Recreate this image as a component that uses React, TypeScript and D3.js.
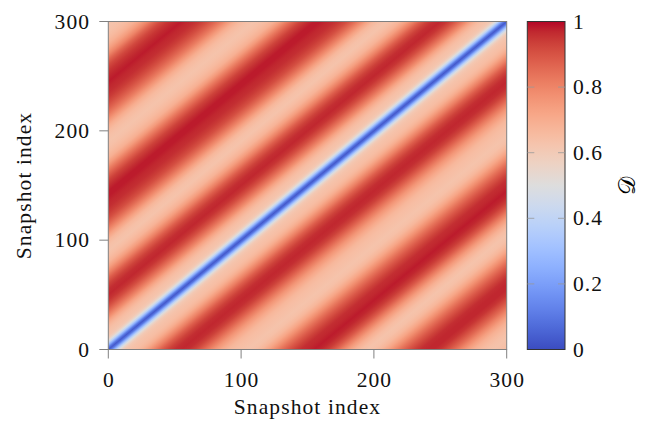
import React, { useEffect, useRef } from "react";
import * as d3 from "d3";

// axis ticks
const xTicks = [0, 100, 200, 300];
const yTicks = [0, 100, 200, 300];
const cbTicks = [0, 0.2, 0.4, 0.6, 0.8, 1];

// distance D vs. lag |i - j| (snapshots), read along the matrix edges
const lags = [0, 2, 4, 6, 8, 10, 12, 15, 18, 21, 24, 27, 30, 35, 40, 45, 50, 55, 60, 65, 70, 75, 80, 85, 90, 95, 100,
  105, 110, 115, 120, 125, 130, 135, 140, 145, 150, 155, 160, 165, 170, 175, 180, 185, 190, 195, 200,
  205, 210, 215, 220, 225, 230, 235, 240, 245, 250, 255, 260, 265, 270, 275, 280, 285, 290, 295, 300];
// j > i (upper left triangle)
const upperD = [0.03, 0.1, 0.24, 0.38, 0.5, 0.57, 0.61, 0.63, 0.64, 0.66, 0.69, 0.73, 0.78, 0.85, 0.91, 0.95, 0.97, 0.96, 0.93, 0.88, 0.81, 0.74, 0.68, 0.65, 0.63, 0.64, 0.67,
  0.73, 0.8, 0.86, 0.91, 0.94, 0.96, 0.97, 0.98, 0.98, 0.96, 0.93, 0.88, 0.82, 0.75, 0.69, 0.66, 0.64, 0.63, 0.64, 0.66,
  0.7, 0.76, 0.82, 0.87, 0.91, 0.94, 0.96, 0.97, 0.98, 0.97, 0.95, 0.92, 0.87, 0.8, 0.74, 0.69, 0.66, 0.64, 0.63, 0.63];
// i > j (lower right triangle)
const lowerD = [0.03, 0.1, 0.24, 0.38, 0.5, 0.57, 0.61, 0.63, 0.64, 0.65, 0.67, 0.7, 0.74, 0.81, 0.88, 0.93, 0.96, 0.97, 0.96, 0.93, 0.88, 0.82, 0.76, 0.71, 0.67, 0.65, 0.64,
  0.63, 0.64, 0.67, 0.72, 0.78, 0.84, 0.89, 0.93, 0.96, 0.97, 0.98, 0.97, 0.94, 0.89, 0.82, 0.75, 0.69, 0.65, 0.63, 0.64,
  0.67, 0.72, 0.78, 0.84, 0.89, 0.93, 0.96, 0.97, 0.97, 0.95, 0.91, 0.86, 0.8, 0.74, 0.69, 0.66, 0.64, 0.63, 0.64, 0.65];

// coolwarm colormap (33 stops)
const coolwarm = [
  [59, 76, 192], [68, 90, 204], [77, 104, 215], [87, 117, 225], [98, 130, 234], [108, 142, 241], [119, 154, 247],
  [130, 165, 251], [141, 176, 254], [152, 185, 255], [163, 194, 255], [174, 201, 253], [184, 208, 249], [194, 213, 244],
  [204, 217, 238], [213, 219, 230], [221, 221, 221], [229, 216, 209], [236, 211, 197], [241, 204, 185], [245, 196, 173],
  [247, 187, 160], [247, 177, 148], [247, 166, 135], [244, 154, 123], [241, 141, 111], [236, 127, 99], [229, 112, 88],
  [222, 96, 77], [213, 80, 66], [203, 62, 56], [192, 40, 47], [180, 4, 38]];

const FONT = "'Liberation Serif', 'DejaVu Serif', serif";
const FS = 21.5;
const LS = 1.1;

const App = () => {
  const ref = useRef<SVGSVGElement>(null);

  useEffect(() => {
    const svg = d3.select(ref.current);
    svg.selectAll("*").remove();
    const defs = svg.append("defs");

    const color = d3.scaleLinear<string>()
      .domain(coolwarm.map((_, k) => k / (coolwarm.length - 1)))
      .range(coolwarm.map(c => d3.rgb(c[0], c[1], c[2]).formatHex()))
      .interpolate(d3.interpolateRgb)
      .clamp(true);

    const x = d3.scaleLinear().domain([0, 300]).range([108.3, 506.7]);
    const y = d3.scaleLinear().domain([0, 300]).range([349.5, 21.5]);

    // gradient across the diagonal: signed lag d = j - i from -300 to 300
    const S = [x(300), y(0)];
    const TL = [x(0), y(300)];
    const kx = (x(300) - x(0)) / 300;
    const ky = (y(0) - y(300)) / 300;
    const n = [-ky, -kx];
    const t = ((TL[0] - S[0]) * n[0] + (TL[1] - S[1]) * n[1]) / (n[0] * n[0] + n[1] * n[1]);
    const E = [S[0] + t * n[0], S[1] + t * n[1]];

    const stops = [
      ...lags.map((l, k) => ({ d: -l, v: lowerD[k] })).reverse(),
      ...lags.slice(1).map((l, k) => ({ d: l, v: upperD[k + 1] })),
    ];
    defs.append("linearGradient")
      .attr("id", "lagGrad")
      .attr("gradientUnits", "userSpaceOnUse")
      .attr("x1", S[0]).attr("y1", S[1])
      .attr("x2", E[0]).attr("y2", E[1])
      .selectAll("stop")
      .data(stops)
      .join("stop")
      .attr("offset", s => (s.d + 300) / 600)
      .attr("stop-color", s => color(s.v));

    svg.append("rect")
      .attr("x", x(0)).attr("y", y(300))
      .attr("width", x(300) - x(0)).attr("height", y(0) - y(300))
      .attr("fill", "url(#lagGrad)");
    svg.append("rect")
      .attr("x", x(0)).attr("y", y(300))
      .attr("width", x(300) - x(0)).attr("height", y(0) - y(300))
      .attr("fill", "none").attr("stroke", "#808080").attr("stroke-width", 1);

    // ticks
    svg.append("g").selectAll("line").data(xTicks).join("line")
      .attr("x1", d => x(d)).attr("x2", d => x(d))
      .attr("y1", y(0)).attr("y2", y(0) + 9)
      .attr("stroke", "#808080");
    svg.append("g").selectAll("line").data(yTicks).join("line")
      .attr("x1", x(0) - 9).attr("x2", x(0))
      .attr("y1", d => y(d)).attr("y2", d => y(d))
      .attr("stroke", "#808080");

    const txt = (sel: any) => sel
      .attr("font-family", FONT).attr("font-size", FS)
      .attr("letter-spacing", LS).attr("fill", "#111");

    svg.append("g").selectAll("text").data(xTicks).join("text")
      .attr("x", d => x(d) + LS / 2).attr("y", 387)
      .attr("text-anchor", "middle")
      .call(txt)
      .text(d => d);
    svg.append("g").selectAll("text").data(yTicks).join("text")
      .attr("x", 89 + LS).attr("y", d => y(d) + 7)
      .attr("text-anchor", "end")
      .call(txt)
      .text(d => d);

    svg.append("text")
      .attr("x", (x(0) + x(300)) / 2).attr("y", 414)
      .attr("text-anchor", "middle")
      .call(txt)
      .text("Snapshot index");
    svg.append("text")
      .attr("transform", `translate(31,${(y(0) + y(300)) / 2}) rotate(-90)`)
      .attr("text-anchor", "middle")
      .call(txt)
      .text("Snapshot index");

    // colorbar
    const cb = d3.scaleLinear().domain([0, 1]).range([349.5, 21.5]);
    const cbx0 = 527.3, cbx1 = 565;
    defs.append("linearGradient")
      .attr("id", "cbGrad")
      .attr("x1", 0).attr("y1", 1).attr("x2", 0).attr("y2", 0)
      .selectAll("stop")
      .data(coolwarm)
      .join("stop")
      .attr("offset", (_, k) => k / (coolwarm.length - 1))
      .attr("stop-color", c => d3.rgb(c[0], c[1], c[2]).formatHex());
    svg.append("rect")
      .attr("x", cbx0).attr("y", cb(1))
      .attr("width", cbx1 - cbx0).attr("height", cb(0) - cb(1))
      .attr("fill", "url(#cbGrad)")
      .attr("stroke", "#333").attr("stroke-width", 1);
    const inner = cbTicks.filter(v => v > 0 && v < 1);
    svg.append("g").selectAll("line").data(inner).join("line")
      .attr("x1", cbx0).attr("x2", cbx0 + 7)
      .attr("y1", d => cb(d)).attr("y2", d => cb(d))
      .attr("stroke", "#999").attr("stroke-opacity", 0.8);
    svg.append("g").selectAll("line").data(inner).join("line")
      .attr("x1", cbx1 - 7).attr("x2", cbx1)
      .attr("y1", d => cb(d)).attr("y2", d => cb(d))
      .attr("stroke", "#999").attr("stroke-opacity", 0.8);
    svg.append("g").selectAll("text").data(cbTicks).join("text")
      .attr("x", 573).attr("y", d => cb(d) + 7)
      .call(txt)
      .text(d => d3.format("~g")(d));
    svg.append("text")
      .attr("transform", `translate(635,${(cb(0) + cb(1)) / 2}) rotate(-90)`)
      .attr("text-anchor", "middle")
      .attr("font-family", FONT).attr("font-size", 23)
      .text("𝒟");
  }, []);

  return (
    <svg ref={ref} width={650} height={422}
      style={{ position: "absolute", left: 0, top: 0, background: "#fff" }} />
  );
};

export default App;
